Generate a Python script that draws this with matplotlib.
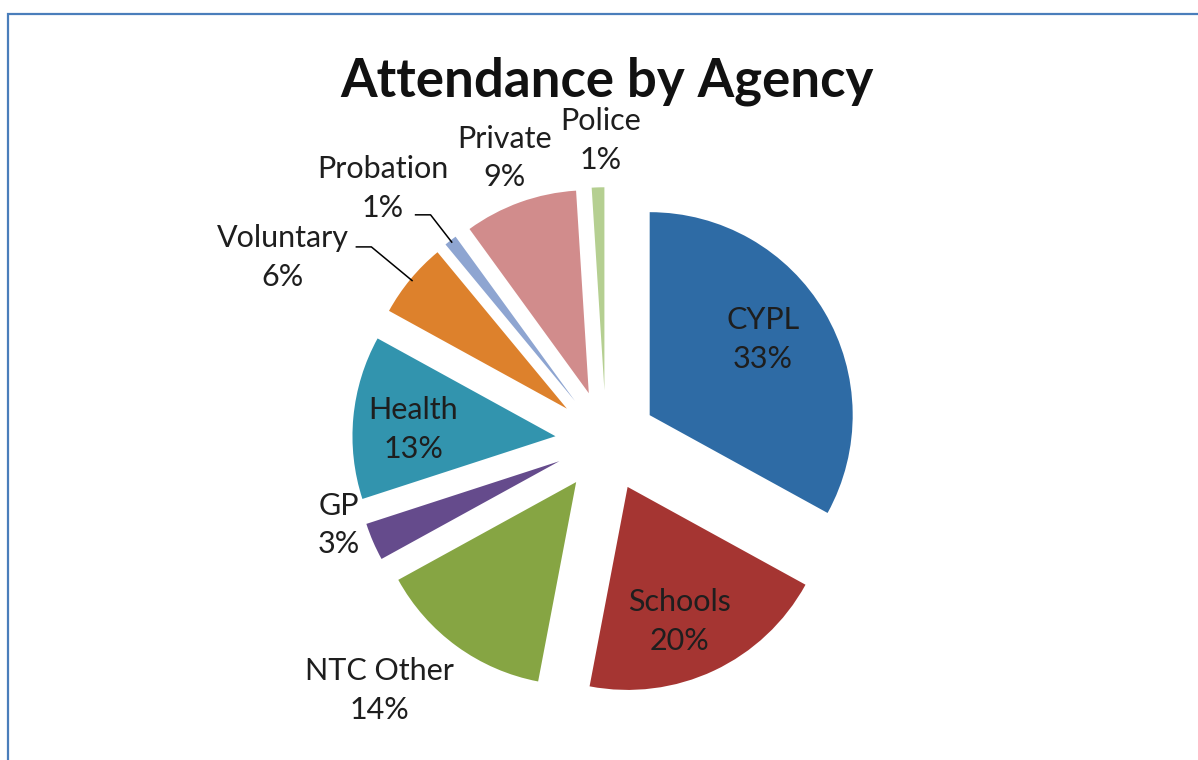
import numpy as np
import matplotlib
matplotlib.use("Agg")
import matplotlib.pyplot as plt
from matplotlib.patches import Rectangle

agencies = ["CYPL", "Schools", "NTC Other", "GP", "Health",
            "Voluntary", "Probation", "Private", "Police"]
shares = [33, 20, 14, 3, 13, 6, 1, 9, 1]
colors = ["#2E6BA5", "#A53532", "#86A543", "#654B8C", "#3294AE",
          "#DD812C", "#8EA5D1", "#D18C8C", "#B5CF91"]

# label placement: distance from pie centre (in radii) and angular nudge (deg)
label_r = [0.92, 0.96, 1.66, 1.38, 0.95, 1.83, 1.66, 1.48, 1.48]
label_shift = [2.3, -3.0, -6.2, -6.0, 2.0, 10.0, 3.7, 0.0, -0.7]
leader = {"Voluntary": 1.50, "Probation": 1.41}

W, H = 1198, 760
fig = plt.figure(figsize=(W / 100, H / 100), dpi=100)
ax = fig.add_axes([0, 0, 1, 1])

cx, cy, R = 606, H - 441, 203
# pie offsets wedges by explode in data units, so scale by the radius
wedges, _ = ax.pie(shares, colors=colors, startangle=90, counterclock=False,
                   explode=[0.25 * R] * len(shares), center=(cx, cy), radius=R,
                   wedgeprops=dict(linewidth=0), frame=True)
ax.set_xlim(0, W)
ax.set_ylim(0, H)
ax.axis("off")

font = "Lato"
txt_color = "#1E1E1E"
for w, name, val, lr, sh in zip(wedges, agencies, shares, label_r, label_shift):
    mid = 0.5 * (w.theta1 + w.theta2)
    a = np.deg2rad(mid + sh)
    x, y = cx + lr * R * np.cos(a), cy + lr * R * np.sin(a)
    ax.text(x, y, f"{name}\n{val}%", ha="center", va="center",
            fontsize=22, family=font, color=txt_color, linespacing=1.45)
    if name in leader:
        m = np.deg2rad(mid)
        x0, y0 = cx + 1.24 * R * np.cos(m), cy + 1.24 * R * np.sin(m)
        x1, y1 = cx + leader[name] * R * np.cos(m), cy + leader[name] * R * np.sin(m)
        ax.plot([x0, x1, x1 - 15], [y0, y1, y1], color="black", lw=1.1)

fig.text(607 / W, 1 - 97 / H, "Attendance by Agency", ha="center",
         va="baseline", fontsize=38, fontweight="bold", family=font,
         color="#111111")

# chart area border
fig.patches.append(Rectangle((8 / W, -0.1), 1.2, 1 - 14 / H + 0.1,
                             transform=fig.transFigure, fill=False,
                             edgecolor="#4A7EBB", linewidth=1.6))

fig.savefig("out.png", dpi=100)
